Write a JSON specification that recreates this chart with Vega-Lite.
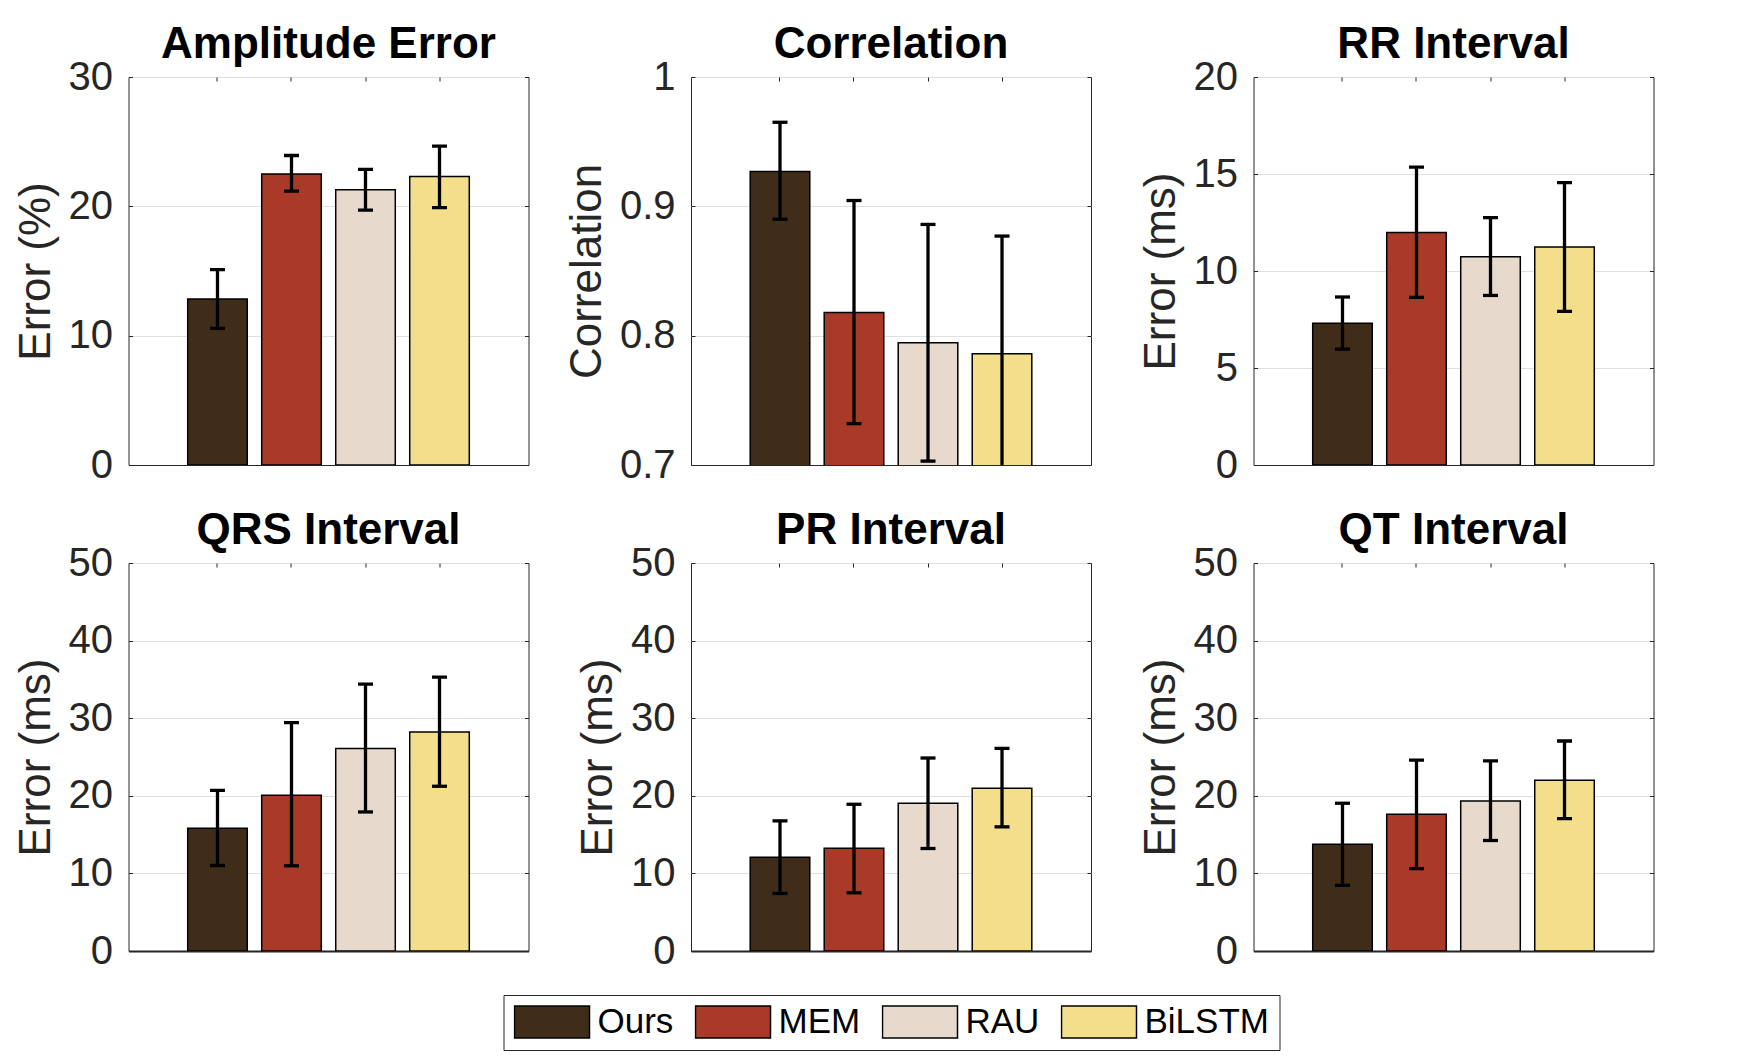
{
  "$schema": "https://vega.github.io/schema/vega-lite/v6.json",
  "background": "white",
  "padding": {"left": 13.5, "top": 22, "right": 5, "bottom": 5},
  "data": {
    "values": [
      {"metric": "Amplitude Error", "method": "Ours", "value": 12.83, "lo": 10.56, "hi": 15.10},
      {"metric": "Amplitude Error", "method": "MEM", "value": 22.5, "lo": 21.17, "hi": 23.93},
      {"metric": "Amplitude Error", "method": "RAU", "value": 21.28, "lo": 19.7, "hi": 22.85},
      {"metric": "Amplitude Error", "method": "BiLSTM", "value": 22.31, "lo": 19.9, "hi": 24.66},
      {"metric": "Correlation", "method": "Ours", "value": 0.927, "lo": 0.890, "hi": 0.965},
      {"metric": "Correlation", "method": "MEM", "value": 0.818, "lo": 0.732, "hi": 0.9045},
      {"metric": "Correlation", "method": "RAU", "value": 0.7945, "lo": 0.703, "hi": 0.886},
      {"metric": "Correlation", "method": "BiLSTM", "value": 0.786, "lo": 0.695, "hi": 0.877},
      {"metric": "RR Interval", "method": "Ours", "value": 7.31, "lo": 5.97, "hi": 8.66},
      {"metric": "RR Interval", "method": "MEM", "value": 11.98, "lo": 8.64, "hi": 15.35},
      {"metric": "RR Interval", "method": "RAU", "value": 10.74, "lo": 8.74, "hi": 12.75},
      {"metric": "RR Interval", "method": "BiLSTM", "value": 11.24, "lo": 7.92, "hi": 14.56},
      {"metric": "QRS Interval", "method": "Ours", "value": 15.82, "lo": 11.02, "hi": 20.71},
      {"metric": "QRS Interval", "method": "MEM", "value": 20.07, "lo": 10.98, "hi": 29.42},
      {"metric": "QRS Interval", "method": "RAU", "value": 26.11, "lo": 17.92, "hi": 34.39},
      {"metric": "QRS Interval", "method": "BiLSTM", "value": 28.22, "lo": 21.23, "hi": 35.29},
      {"metric": "PR Interval", "method": "Ours", "value": 12.09, "lo": 7.42, "hi": 16.77},
      {"metric": "PR Interval", "method": "MEM", "value": 13.25, "lo": 7.50, "hi": 18.91},
      {"metric": "PR Interval", "method": "RAU", "value": 19.04, "lo": 13.21, "hi": 24.87},
      {"metric": "PR Interval", "method": "BiLSTM", "value": 20.97, "lo": 16.0, "hi": 26.11},
      {"metric": "QT Interval", "method": "Ours", "value": 13.77, "lo": 8.46, "hi": 19.04},
      {"metric": "QT Interval", "method": "MEM", "value": 17.62, "lo": 10.62, "hi": 24.61},
      {"metric": "QT Interval", "method": "RAU", "value": 19.34, "lo": 14.24, "hi": 24.49},
      {"metric": "QT Interval", "method": "BiLSTM", "value": 22.0, "lo": 17.07, "hi": 27.06}
    ]
  },
  "columns": 3,
  "bounds": "flush",
  "spacing": {"row": 98, "column": 162.5},
  "resolve": {"scale": {"color": "shared"}, "legend": {"color": "shared"}},
  "concat": [
    {
      "title": "Amplitude Error",
      "width": 400, "height": 388,
      "transform": [{"filter": "datum.metric === 'Amplitude Error'"}],
      "layer": [
        {
          "mark": {"type": "bar", "stroke": "black", "strokeWidth": 1.5, "opacity": 1, "clip": true},
          "encoding": {
            "x": {"field": "method", "type": "nominal", "sort": ["Ours", "MEM", "RAU", "BiLSTM"], "scale": {"paddingInner": 0.195, "paddingOuter": 0.8}, "axis": {"orient": "bottom", "labels": false, "title": null, "domain": true, "domainWidth": 1}},
            "y": {"field": "value", "type": "quantitative", "scale": {"domain": [0, 30], "nice": false}, "axis": {"orient": "left", "values": [0, 10, 20, 30], "grid": true, "domain": false, "title": "Error (%)"}},
            "color": {"field": "method", "type": "nominal", "sort": ["Ours", "MEM", "RAU", "BiLSTM"], "scale": {"domain": ["Ours", "MEM", "RAU", "BiLSTM"], "range": ["#3F2D1A", "#A83A27", "#E7D9CC", "#F2DE8B"]}, "legend": {"orient": "none", "legendX": 375, "legendY": 918, "direction": "horizontal", "title": null, "symbolType": "M-1,-0.4267H1V0.4267H-1Z", "symbolSize": 5625, "symbolStrokeColor": "black", "symbolStrokeWidth": 1.5, "symbolOpacity": 1, "labelFont": "Liberation Sans", "labelFontSize": 35, "labelColor": "black", "labelOffset": 7, "columnPadding": 21, "padding": 10, "clipHeight": 34, "strokeColor": "#262626", "fillColor": "white"}}
          }
        },
        {
          "mark": {"type": "rule", "color": "black", "strokeWidth": 3.3, "clip": true},
          "encoding": {
            "x": {"field": "method", "type": "nominal", "sort": ["Ours", "MEM", "RAU", "BiLSTM"], "axis": {"orient": "top", "labels": false, "title": null, "domain": false}},
            "y": {"field": "lo", "type": "quantitative", "scale": {"domain": [0, 30], "nice": false}, "axis": {"orient": "right", "labels": false, "values": [0, 10, 20, 30], "grid": false, "domain": false, "title": null}},
            "y2": {"field": "hi"}
          }
        },
        {
          "mark": {"type": "tick", "color": "black", "size": 15, "thickness": 3.3, "opacity": 1, "clip": true},
          "encoding": {
            "x": {"field": "method", "type": "nominal", "sort": ["Ours", "MEM", "RAU", "BiLSTM"], "axis": null},
            "y": {"field": "lo", "type": "quantitative", "scale": {"domain": [0, 30], "nice": false}, "axis": null}
          }
        },
        {
          "mark": {"type": "tick", "color": "black", "size": 15, "thickness": 3.3, "opacity": 1, "clip": true},
          "encoding": {
            "x": {"field": "method", "type": "nominal", "sort": ["Ours", "MEM", "RAU", "BiLSTM"], "axis": null},
            "y": {"field": "hi", "type": "quantitative", "scale": {"domain": [0, 30], "nice": false}, "axis": null}
          }
        }
      ],
      "resolve": {"axis": {"x": "independent", "y": "independent"}}
    },
    {
      "title": "Correlation",
      "width": 400, "height": 388,
      "transform": [{"filter": "datum.metric === 'Correlation'"}],
      "layer": [
        {
          "mark": {"type": "bar", "stroke": "black", "strokeWidth": 1.5, "opacity": 1, "clip": true},
          "encoding": {
            "x": {"field": "method", "type": "nominal", "sort": ["Ours", "MEM", "RAU", "BiLSTM"], "scale": {"paddingInner": 0.195, "paddingOuter": 0.8}, "axis": {"orient": "bottom", "labels": false, "title": null, "domain": true, "domainWidth": 1}},
            "y": {"field": "value", "type": "quantitative", "scale": {"domain": [0.7, 1], "nice": false, "zero": false}, "axis": {"orient": "left", "values": [0.7, 0.8, 0.9, 1], "format": "~g", "grid": true, "domain": false, "title": "Correlation"}},
            "color": {"field": "method", "type": "nominal", "sort": ["Ours", "MEM", "RAU", "BiLSTM"], "scale": {"domain": ["Ours", "MEM", "RAU", "BiLSTM"], "range": ["#3F2D1A", "#A83A27", "#E7D9CC", "#F2DE8B"]}, "legend": {"orient": "none", "legendX": 375, "legendY": 918, "direction": "horizontal", "title": null, "symbolType": "M-1,-0.4267H1V0.4267H-1Z", "symbolSize": 5625, "symbolStrokeColor": "black", "symbolStrokeWidth": 1.5, "symbolOpacity": 1, "labelFont": "Liberation Sans", "labelFontSize": 35, "labelColor": "black", "labelOffset": 7, "columnPadding": 21, "padding": 10, "clipHeight": 34, "strokeColor": "#262626", "fillColor": "white"}}
          }
        },
        {
          "mark": {"type": "rule", "color": "black", "strokeWidth": 3.3, "clip": true},
          "encoding": {
            "x": {"field": "method", "type": "nominal", "sort": ["Ours", "MEM", "RAU", "BiLSTM"], "axis": {"orient": "top", "labels": false, "title": null, "domain": false}},
            "y": {"field": "lo", "type": "quantitative", "scale": {"domain": [0.7, 1], "nice": false, "zero": false}, "axis": {"orient": "right", "labels": false, "values": [0.7, 0.8, 0.9, 1], "grid": false, "domain": false, "title": null}},
            "y2": {"field": "hi"}
          }
        },
        {
          "mark": {"type": "tick", "color": "black", "size": 15, "thickness": 3.3, "opacity": 1, "clip": true},
          "encoding": {
            "x": {"field": "method", "type": "nominal", "sort": ["Ours", "MEM", "RAU", "BiLSTM"], "axis": null},
            "y": {"field": "lo", "type": "quantitative", "scale": {"domain": [0.7, 1], "nice": false, "zero": false}, "axis": null}
          }
        },
        {
          "mark": {"type": "tick", "color": "black", "size": 15, "thickness": 3.3, "opacity": 1, "clip": true},
          "encoding": {
            "x": {"field": "method", "type": "nominal", "sort": ["Ours", "MEM", "RAU", "BiLSTM"], "axis": null},
            "y": {"field": "hi", "type": "quantitative", "scale": {"domain": [0.7, 1], "nice": false, "zero": false}, "axis": null}
          }
        }
      ],
      "resolve": {"axis": {"x": "independent", "y": "independent"}}
    },
    {
      "title": "RR Interval",
      "width": 400, "height": 388,
      "transform": [{"filter": "datum.metric === 'RR Interval'"}],
      "layer": [
        {
          "mark": {"type": "bar", "stroke": "black", "strokeWidth": 1.5, "opacity": 1, "clip": true},
          "encoding": {
            "x": {"field": "method", "type": "nominal", "sort": ["Ours", "MEM", "RAU", "BiLSTM"], "scale": {"paddingInner": 0.195, "paddingOuter": 0.8}, "axis": {"orient": "bottom", "labels": false, "title": null, "domain": true, "domainWidth": 1}},
            "y": {"field": "value", "type": "quantitative", "scale": {"domain": [0, 20], "nice": false}, "axis": {"orient": "left", "values": [0, 5, 10, 15, 20], "grid": true, "domain": false, "title": "Error (ms)"}},
            "color": {"field": "method", "type": "nominal", "sort": ["Ours", "MEM", "RAU", "BiLSTM"], "scale": {"domain": ["Ours", "MEM", "RAU", "BiLSTM"], "range": ["#3F2D1A", "#A83A27", "#E7D9CC", "#F2DE8B"]}, "legend": {"orient": "none", "legendX": 375, "legendY": 918, "direction": "horizontal", "title": null, "symbolType": "M-1,-0.4267H1V0.4267H-1Z", "symbolSize": 5625, "symbolStrokeColor": "black", "symbolStrokeWidth": 1.5, "symbolOpacity": 1, "labelFont": "Liberation Sans", "labelFontSize": 35, "labelColor": "black", "labelOffset": 7, "columnPadding": 21, "padding": 10, "clipHeight": 34, "strokeColor": "#262626", "fillColor": "white"}}
          }
        },
        {
          "mark": {"type": "rule", "color": "black", "strokeWidth": 3.3, "clip": true},
          "encoding": {
            "x": {"field": "method", "type": "nominal", "sort": ["Ours", "MEM", "RAU", "BiLSTM"], "axis": {"orient": "top", "labels": false, "title": null, "domain": false}},
            "y": {"field": "lo", "type": "quantitative", "scale": {"domain": [0, 20], "nice": false}, "axis": {"orient": "right", "labels": false, "values": [0, 5, 10, 15, 20], "grid": false, "domain": false, "title": null}},
            "y2": {"field": "hi"}
          }
        },
        {
          "mark": {"type": "tick", "color": "black", "size": 15, "thickness": 3.3, "opacity": 1, "clip": true},
          "encoding": {
            "x": {"field": "method", "type": "nominal", "sort": ["Ours", "MEM", "RAU", "BiLSTM"], "axis": null},
            "y": {"field": "lo", "type": "quantitative", "scale": {"domain": [0, 20], "nice": false}, "axis": null}
          }
        },
        {
          "mark": {"type": "tick", "color": "black", "size": 15, "thickness": 3.3, "opacity": 1, "clip": true},
          "encoding": {
            "x": {"field": "method", "type": "nominal", "sort": ["Ours", "MEM", "RAU", "BiLSTM"], "axis": null},
            "y": {"field": "hi", "type": "quantitative", "scale": {"domain": [0, 20], "nice": false}, "axis": null}
          }
        }
      ],
      "resolve": {"axis": {"x": "independent", "y": "independent"}}
    },
    {
      "title": "QRS Interval",
      "width": 400, "height": 388,
      "transform": [{"filter": "datum.metric === 'QRS Interval'"}],
      "layer": [
        {
          "mark": {"type": "bar", "stroke": "black", "strokeWidth": 1.5, "opacity": 1, "clip": true},
          "encoding": {
            "x": {"field": "method", "type": "nominal", "sort": ["Ours", "MEM", "RAU", "BiLSTM"], "scale": {"paddingInner": 0.195, "paddingOuter": 0.8}, "axis": {"orient": "bottom", "labels": false, "title": null, "domain": true, "domainWidth": 2}},
            "y": {"field": "value", "type": "quantitative", "scale": {"domain": [0, 50], "nice": false}, "axis": {"orient": "left", "values": [0, 10, 20, 30, 40, 50], "grid": true, "domain": false, "title": "Error (ms)"}},
            "color": {"field": "method", "type": "nominal", "sort": ["Ours", "MEM", "RAU", "BiLSTM"], "scale": {"domain": ["Ours", "MEM", "RAU", "BiLSTM"], "range": ["#3F2D1A", "#A83A27", "#E7D9CC", "#F2DE8B"]}, "legend": {"orient": "none", "legendX": 375, "legendY": 918, "direction": "horizontal", "title": null, "symbolType": "M-1,-0.4267H1V0.4267H-1Z", "symbolSize": 5625, "symbolStrokeColor": "black", "symbolStrokeWidth": 1.5, "symbolOpacity": 1, "labelFont": "Liberation Sans", "labelFontSize": 35, "labelColor": "black", "labelOffset": 7, "columnPadding": 21, "padding": 10, "clipHeight": 34, "strokeColor": "#262626", "fillColor": "white"}}
          }
        },
        {
          "mark": {"type": "rule", "color": "black", "strokeWidth": 3.3, "clip": true},
          "encoding": {
            "x": {"field": "method", "type": "nominal", "sort": ["Ours", "MEM", "RAU", "BiLSTM"], "axis": {"orient": "top", "labels": false, "title": null, "domain": false}},
            "y": {"field": "lo", "type": "quantitative", "scale": {"domain": [0, 50], "nice": false}, "axis": {"orient": "right", "labels": false, "values": [0, 10, 20, 30, 40, 50], "grid": false, "domain": false, "title": null}},
            "y2": {"field": "hi"}
          }
        },
        {
          "mark": {"type": "tick", "color": "black", "size": 15, "thickness": 3.3, "opacity": 1, "clip": true},
          "encoding": {
            "x": {"field": "method", "type": "nominal", "sort": ["Ours", "MEM", "RAU", "BiLSTM"], "axis": null},
            "y": {"field": "lo", "type": "quantitative", "scale": {"domain": [0, 50], "nice": false}, "axis": null}
          }
        },
        {
          "mark": {"type": "tick", "color": "black", "size": 15, "thickness": 3.3, "opacity": 1, "clip": true},
          "encoding": {
            "x": {"field": "method", "type": "nominal", "sort": ["Ours", "MEM", "RAU", "BiLSTM"], "axis": null},
            "y": {"field": "hi", "type": "quantitative", "scale": {"domain": [0, 50], "nice": false}, "axis": null}
          }
        }
      ],
      "resolve": {"axis": {"x": "independent", "y": "independent"}}
    },
    {
      "title": "PR Interval",
      "width": 400, "height": 388,
      "transform": [{"filter": "datum.metric === 'PR Interval'"}],
      "layer": [
        {
          "mark": {"type": "bar", "stroke": "black", "strokeWidth": 1.5, "opacity": 1, "clip": true},
          "encoding": {
            "x": {"field": "method", "type": "nominal", "sort": ["Ours", "MEM", "RAU", "BiLSTM"], "scale": {"paddingInner": 0.195, "paddingOuter": 0.8}, "axis": {"orient": "bottom", "labels": false, "title": null, "domain": true, "domainWidth": 2}},
            "y": {"field": "value", "type": "quantitative", "scale": {"domain": [0, 50], "nice": false}, "axis": {"orient": "left", "values": [0, 10, 20, 30, 40, 50], "grid": true, "domain": false, "title": "Error (ms)"}},
            "color": {"field": "method", "type": "nominal", "sort": ["Ours", "MEM", "RAU", "BiLSTM"], "scale": {"domain": ["Ours", "MEM", "RAU", "BiLSTM"], "range": ["#3F2D1A", "#A83A27", "#E7D9CC", "#F2DE8B"]}, "legend": {"orient": "none", "legendX": 375, "legendY": 918, "direction": "horizontal", "title": null, "symbolType": "M-1,-0.4267H1V0.4267H-1Z", "symbolSize": 5625, "symbolStrokeColor": "black", "symbolStrokeWidth": 1.5, "symbolOpacity": 1, "labelFont": "Liberation Sans", "labelFontSize": 35, "labelColor": "black", "labelOffset": 7, "columnPadding": 21, "padding": 10, "clipHeight": 34, "strokeColor": "#262626", "fillColor": "white"}}
          }
        },
        {
          "mark": {"type": "rule", "color": "black", "strokeWidth": 3.3, "clip": true},
          "encoding": {
            "x": {"field": "method", "type": "nominal", "sort": ["Ours", "MEM", "RAU", "BiLSTM"], "axis": {"orient": "top", "labels": false, "title": null, "domain": false}},
            "y": {"field": "lo", "type": "quantitative", "scale": {"domain": [0, 50], "nice": false}, "axis": {"orient": "right", "labels": false, "values": [0, 10, 20, 30, 40, 50], "grid": false, "domain": false, "title": null}},
            "y2": {"field": "hi"}
          }
        },
        {
          "mark": {"type": "tick", "color": "black", "size": 15, "thickness": 3.3, "opacity": 1, "clip": true},
          "encoding": {
            "x": {"field": "method", "type": "nominal", "sort": ["Ours", "MEM", "RAU", "BiLSTM"], "axis": null},
            "y": {"field": "lo", "type": "quantitative", "scale": {"domain": [0, 50], "nice": false}, "axis": null}
          }
        },
        {
          "mark": {"type": "tick", "color": "black", "size": 15, "thickness": 3.3, "opacity": 1, "clip": true},
          "encoding": {
            "x": {"field": "method", "type": "nominal", "sort": ["Ours", "MEM", "RAU", "BiLSTM"], "axis": null},
            "y": {"field": "hi", "type": "quantitative", "scale": {"domain": [0, 50], "nice": false}, "axis": null}
          }
        }
      ],
      "resolve": {"axis": {"x": "independent", "y": "independent"}}
    },
    {
      "title": "QT Interval",
      "width": 400, "height": 388,
      "transform": [{"filter": "datum.metric === 'QT Interval'"}],
      "layer": [
        {
          "mark": {"type": "bar", "stroke": "black", "strokeWidth": 1.5, "opacity": 1, "clip": true},
          "encoding": {
            "x": {"field": "method", "type": "nominal", "sort": ["Ours", "MEM", "RAU", "BiLSTM"], "scale": {"paddingInner": 0.195, "paddingOuter": 0.8}, "axis": {"orient": "bottom", "labels": false, "title": null, "domain": true, "domainWidth": 2}},
            "y": {"field": "value", "type": "quantitative", "scale": {"domain": [0, 50], "nice": false}, "axis": {"orient": "left", "values": [0, 10, 20, 30, 40, 50], "grid": true, "domain": false, "title": "Error (ms)"}},
            "color": {"field": "method", "type": "nominal", "sort": ["Ours", "MEM", "RAU", "BiLSTM"], "scale": {"domain": ["Ours", "MEM", "RAU", "BiLSTM"], "range": ["#3F2D1A", "#A83A27", "#E7D9CC", "#F2DE8B"]}, "legend": {"orient": "none", "legendX": 375, "legendY": 918, "direction": "horizontal", "title": null, "symbolType": "M-1,-0.4267H1V0.4267H-1Z", "symbolSize": 5625, "symbolStrokeColor": "black", "symbolStrokeWidth": 1.5, "symbolOpacity": 1, "labelFont": "Liberation Sans", "labelFontSize": 35, "labelColor": "black", "labelOffset": 7, "columnPadding": 21, "padding": 10, "clipHeight": 34, "strokeColor": "#262626", "fillColor": "white"}}
          }
        },
        {
          "mark": {"type": "rule", "color": "black", "strokeWidth": 3.3, "clip": true},
          "encoding": {
            "x": {"field": "method", "type": "nominal", "sort": ["Ours", "MEM", "RAU", "BiLSTM"], "axis": {"orient": "top", "labels": false, "title": null, "domain": false}},
            "y": {"field": "lo", "type": "quantitative", "scale": {"domain": [0, 50], "nice": false}, "axis": {"orient": "right", "labels": false, "values": [0, 10, 20, 30, 40, 50], "grid": false, "domain": false, "title": null}},
            "y2": {"field": "hi"}
          }
        },
        {
          "mark": {"type": "tick", "color": "black", "size": 15, "thickness": 3.3, "opacity": 1, "clip": true},
          "encoding": {
            "x": {"field": "method", "type": "nominal", "sort": ["Ours", "MEM", "RAU", "BiLSTM"], "axis": null},
            "y": {"field": "lo", "type": "quantitative", "scale": {"domain": [0, 50], "nice": false}, "axis": null}
          }
        },
        {
          "mark": {"type": "tick", "color": "black", "size": 15, "thickness": 3.3, "opacity": 1, "clip": true},
          "encoding": {
            "x": {"field": "method", "type": "nominal", "sort": ["Ours", "MEM", "RAU", "BiLSTM"], "axis": null},
            "y": {"field": "hi", "type": "quantitative", "scale": {"domain": [0, 50], "nice": false}, "axis": null}
          }
        }
      ],
      "resolve": {"axis": {"x": "independent", "y": "independent"}}
    }
  ],
  "config": {
    "view": {"stroke": "#262626", "strokeWidth": 1},
    "title": {"font": "Liberation Sans", "fontSize": 44, "fontWeight": "bold", "color": "black", "anchor": "middle", "frame": "group", "offset": -10, "baseline": "alphabetic"},
    "axis": {
      "labelFont": "Liberation Sans", "labelFontSize": 40, "labelColor": "#262626",
      "titleFont": "Liberation Sans", "titleFontSize": 44, "titleFontWeight": "normal", "titleColor": "#262626", "titlePadding": 10,
      "tickColor": "#262626", "tickSize": -4, "tickWidth": 1, "labelPadding": 20,
      "domainColor": "#262626", "gridColor": "#dfdfdf", "gridWidth": 1
    }
  }
}
